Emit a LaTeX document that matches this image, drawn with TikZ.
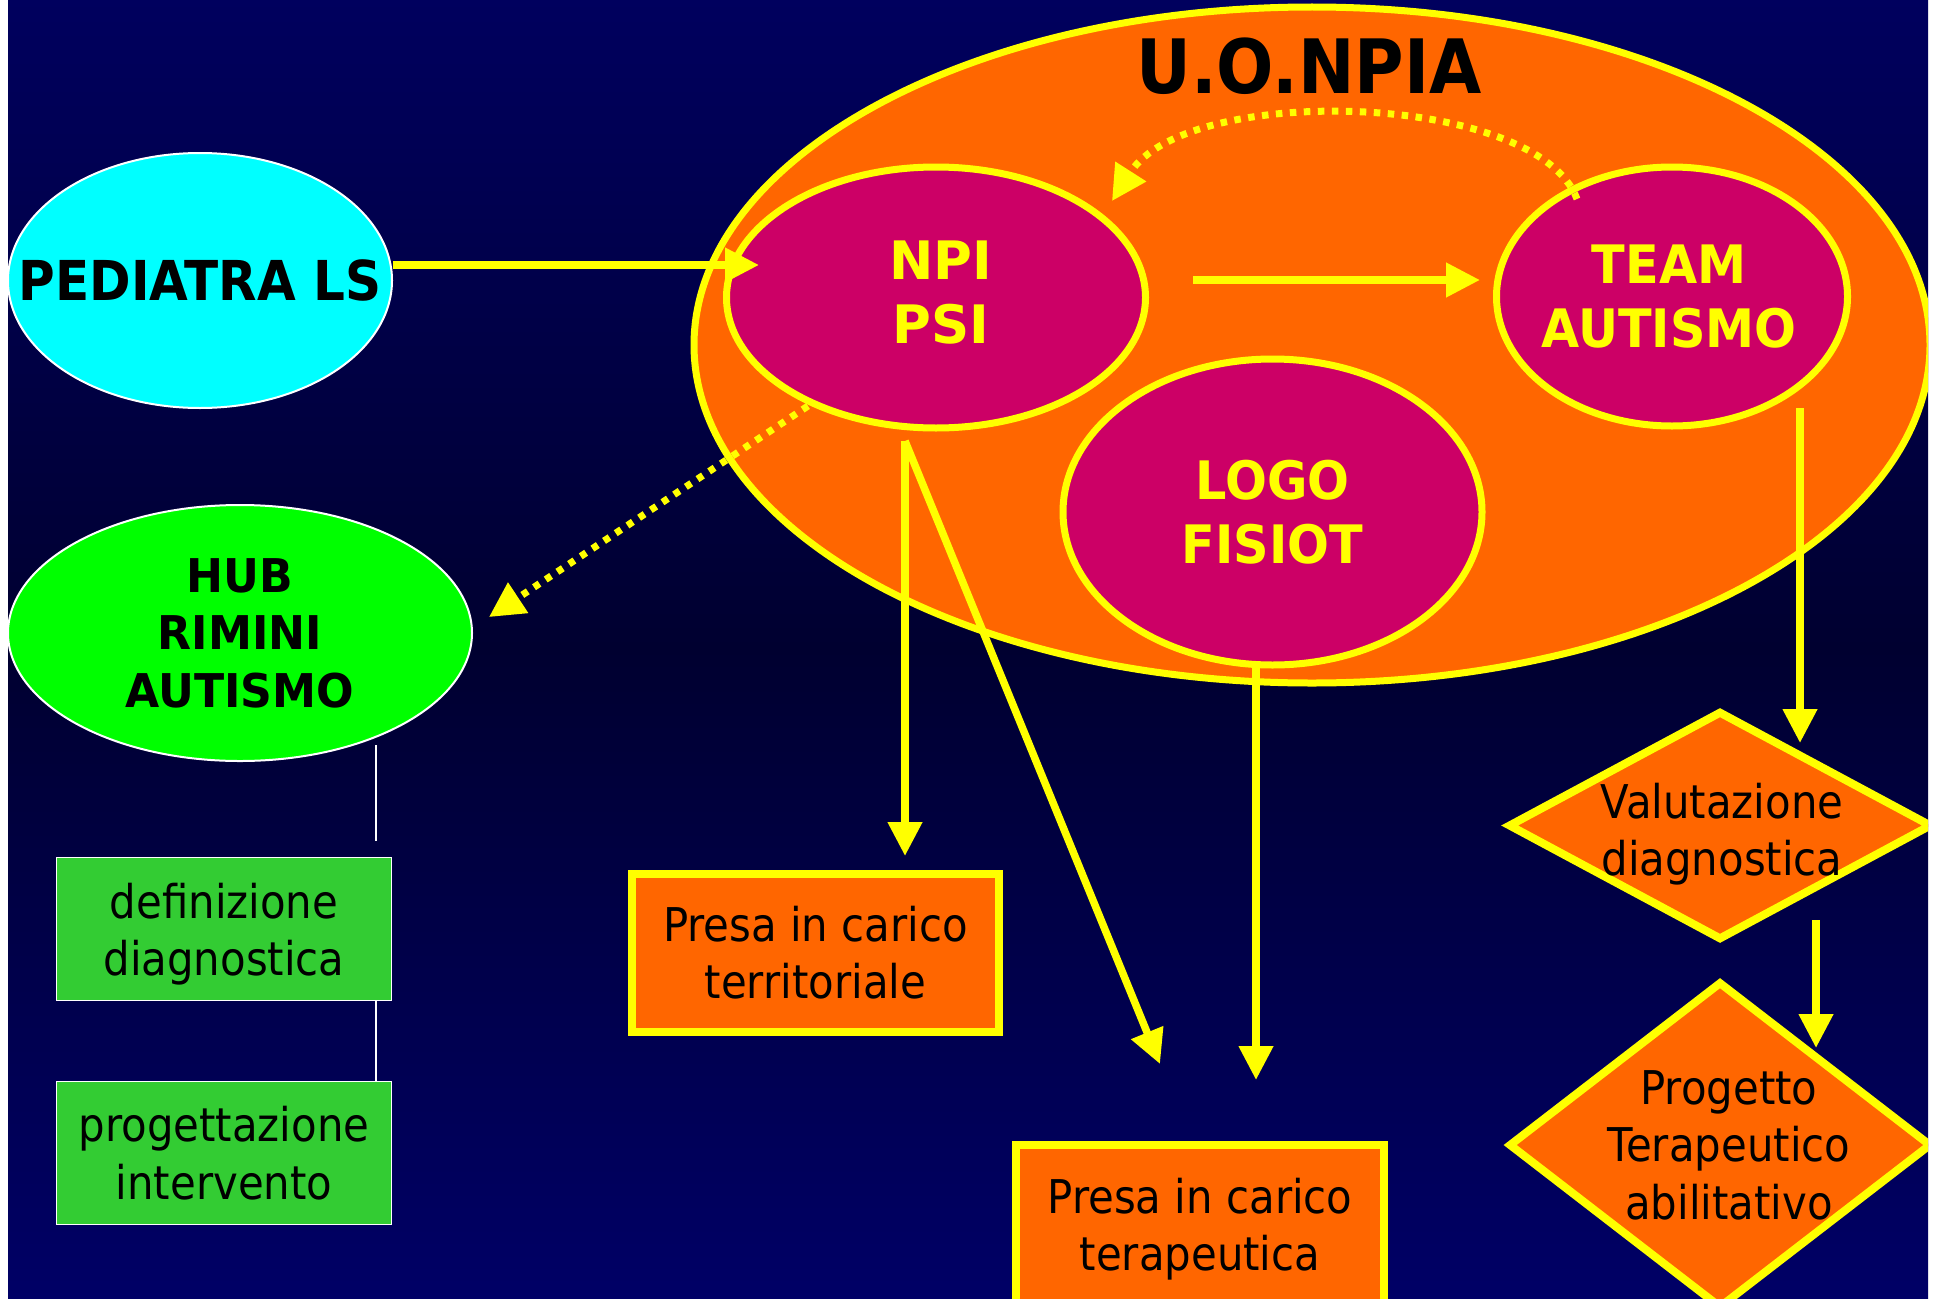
\documentclass[tikz,border=0pt]{standalone}
\usepackage{fontspec}
\setmainfont{DejaVu Sans}
\newfontfamily\fReg{DejaVu Sans}[FakeStretch=0.90]
\newfontfamily\fBa{DejaVu Sans}[FakeStretch=0.93]
\newfontfamily\fBn{DejaVu Sans}[FakeStretch=1.0]
\newfontfamily\fBb{DejaVu Sans}[FakeStretch=0.91]
\newfontfamily\fBc{DejaVu Sans}[FakeStretch=0.95]
\newfontfamily\fBd{DejaVu Sans}[FakeStretch=0.90]
\usetikzlibrary{arrows.meta,shapes.geometric}
\definecolor{bgTop}{RGB}{0,0,94}
\definecolor{bgMid}{RGB}{0,0,48}
\definecolor{bgBot}{RGB}{0,0,102}
\definecolor{orng}{RGB}{255,102,0}
\definecolor{mgnt}{RGB}{204,0,102}
\definecolor{ylw}{RGB}{255,255,0}
\definecolor{cyn}{RGB}{0,255,255}
\definecolor{lgrn}{RGB}{0,255,0}
\definecolor{bgrn}{RGB}{51,204,51}
\tikzset{
  pinkell/.style={ellipse, draw=ylw, line width=7pt, fill=mgnt, inner sep=0pt},
  pinktxt/.style={text=ylw, align=center, inner sep=0pt, font=\fBa\bfseries\fontsize{53}{63.5}\selectfont},
  obox/.style={rectangle, draw=ylw, line width=8pt, fill=orng, inner sep=0pt, align=center, text=black, font=\fReg\fontsize{46.5}{57}\selectfont},
  gbox/.style={rectangle, draw=white, line width=1.5pt, fill=bgrn, inner sep=0pt, minimum width=335pt, minimum height=143pt},
  gtxt/.style={text=black, align=center, inner sep=0pt, font=\fReg\fontsize{46.5}{57.5}\selectfont},
  dmd/.style={diamond, draw=ylw, line width=8pt, fill=orng, inner sep=0pt},
  dmdtxt/.style={text=black, align=center, inner sep=0pt, font=\fReg\fontsize{46.5}{57.5}\selectfont},
  yarrow/.style={draw=ylw, line width=7.5pt, -{Triangle[length=34pt,width=33pt]}},
  ydot/.style={draw=ylw, line width=7pt, dash pattern=on 6.5pt off 7.5pt, -{Triangle[length=35pt,width=35pt]}},
  wline/.style={draw=white, line width=1.5pt}
}
\begin{document}
\begin{tikzpicture}[x=1pt,y=-1pt]
\useasboundingbox (0,0) rectangle (1937,1298);
\fill[white] (0,0) rectangle (1937,1298);
\begin{scope}
\clip (8,0) rectangle (1928,1298);
\shade[top color=bgTop, bottom color=bgBot, middle color=bgMid] (8,0) rectangle (1928,1298);

% big unit ellipse
\node[ellipse, draw=ylw, line width=7pt, fill=orng, inner sep=0pt,
      minimum width=1236pt, minimum height=676pt] (uo) at (1312,345) {};
\node[anchor=base, inner sep=0pt, text=black, font=\fBd\bfseries\fontsize{75}{80}\selectfont] (uoT) at (1309,93) {U.O.NPIA};

% inner ellipses
\node[pinkell, minimum width=419pt, minimum height=261pt,
      label={[pinktxt, font=\fBn\bfseries\fontsize{53}{63.5}\selectfont, xshift=5pt, yshift=5pt]center:NPI\\PSI}] (npi) at (936,297.5) {};
\node[pinkell, minimum width=351pt, minimum height=259pt,
      label={[pinktxt, xshift=-3pt]center:TEAM\\AUTISMO}] (team) at (1672,296.5) {};
\node[pinkell, minimum width=419pt, minimum height=306pt,
      label={[pinktxt]center:LOGO\\FISIOT}] (logo) at (1272.5,512) {};

% pediatra
\node[ellipse, draw=white, line width=2pt, fill=cyn, inner sep=0pt,
      minimum width=384pt, minimum height=255pt,
      label={[text=black, inner sep=0pt, font=\fBb\bfseries\fontsize{55}{60}\selectfont]center:PEDIATRA LS}] (ped) at (200,280.5) {};

% hub
\node[ellipse, draw=white, line width=2pt, fill=lgrn, inner sep=0pt,
      minimum width=464pt, minimum height=256pt,
      label={[text=black, align=center, inner sep=0pt, font=\fBc\bfseries\fontsize{46.5}{57.5}\selectfont]center:HUB\\RIMINI\\AUTISMO}] (hub) at (240,633) {};

% green boxes
\node[gbox, label={[gtxt, yshift=-5pt]center:definizione\\diagnostica}] (defn) at (224,929) {};
\node[gbox, label={[gtxt]center:progettazione\\intervento}] (prog) at (224,1153) {};

% orange boxes
\node[obox, minimum width=367pt, minimum height=158pt] (terr) at (815.5,953) {Presa in carico\\territoriale};
\node[obox, minimum width=368pt, minimum height=168pt] (terap) at (1200,1229) {Presa in carico\\terapeutica};

% diamonds
\node[dmd, minimum width=424pt, minimum height=229pt,
      label={[dmdtxt, xshift=2pt, yshift=-8.5pt]center:Valutazione\\diagnostica}] (val) at (1720,825.5) {};
\node[dmd, minimum width=423pt, minimum height=327pt,
      label={[dmdtxt, xshift=9pt]center:Progetto\\Terapeutico\\abilitativo}] (pta) at (1720,1145) {};

% free connector ends
\coordinate (npiIn) at (759,265);
\coordinate (npiR) at (1193,280);
\coordinate (teamL) at (1480,280);
\coordinate (teamTop) at (1577,199);
\coordinate (npiTop) at (1112,201);
\coordinate (npiLow) at (808,406);
\coordinate (hubTip) at (489,617);
\coordinate (npiBot) at (905,441);
\coordinate (terrTip) at (905,856);
\coordinate (terapTip) at (1160,1064);
\coordinate (logoBot) at (1256,665);
\coordinate (logoTip) at (1256,1080);
\coordinate (teamBot) at (1800,408);
\coordinate (valTip) at (1800,743);
\coordinate (valBot) at (1816,920);
\coordinate (ptaTip) at (1816,1048);
\coordinate (hubW) at (376,745);
\coordinate (defW) at (376,841);
\coordinate (xw) at (376,0);

% white connectors
\draw[wline] (hubW) -- (defW);
\draw[wline] (defn.south -| xw) -- (prog.north -| xw);

% yellow connectors
\draw[yarrow] ([yshift=15.5pt]ped.east) -- (npiIn);
\draw[yarrow] (npiR) -- (teamL);
\draw[ydot] (teamTop) .. controls (1537,92) and (1188,82) .. (npiTop);
\draw[ydot] (npiLow) -- (hubTip);
\draw[yarrow] (npiBot) -- (terrTip);
\draw[yarrow] (npiBot) -- (terapTip);
\draw[yarrow] (logoBot) -- (logoTip);
\draw[yarrow] (teamBot) -- (valTip);
\draw[yarrow] (valBot) -- (ptaTip);
\end{scope}
\end{tikzpicture}
\end{document}
